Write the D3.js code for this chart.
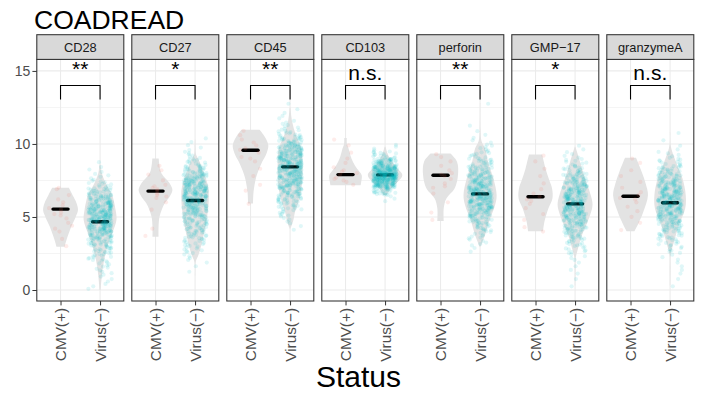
<!DOCTYPE html>
<html>
<head>
<meta charset="utf-8">
<script src="https://cdn.jsdelivr.net/npm/d3@7"></script>
<style>body{margin:0;background:#fff}</style>
</head>
<body>
<script>
// panels, groups and labels
var markers = ["CD28", "CD27", "CD45", "CD103", "perforin", "GMP\u221217", "granzymeA"];
var groups = ["CMV(+)", "Virus(\u2212)"];
var sigLabels = ["**", "*", "**", "n.s.", "**", "*", "n.s."];
var yTicks = [0, 5, 10, 15];
var yMinor = [2.5, 7.5, 12.5];

// medians (black bars)
var medianCMV = [5.54, 6.77, 9.57, 7.9, 7.86, 6.38, 6.42];
var medianVirus = [4.67, 6.13, 8.43, 7.88, 6.58, 5.9, 5.97];

// violin outlines: [value, relative width]
var violinCMV = [
  [[2.96,0.23],[3.4,0.33],[4.0,0.5],[4.33,0.6],[5.0,0.85],[5.47,0.98],[6.0,0.88],[6.4,0.72],[7.0,0.47]],
  [[3.65,0.17],[4.33,0.17],[5.0,0.22],[5.5,0.35],[5.93,0.51],[6.4,0.8],[6.84,0.95],[7.3,0.8],[8.0,0.33],[8.7,0.2],[9.0,0.18]],
  [[5.93,0.14],[6.72,0.17],[7.63,0.3],[8.2,0.45],[8.77,0.65],[9.3,0.88],[9.9,1.0],[10.5,0.8],[10.98,0.51]],
  [[7.18,0.85],[7.4,0.88],[7.86,0.91],[8.3,0.65],[8.77,0.42],[9.2,0.28],[9.68,0.17],[10.0,0.08],[10.4,0.07]],
  [[4.72,0.18],[5.6,0.18],[6.27,0.33],[6.95,0.79],[7.86,0.98],[8.77,0.93],[9.34,0.56]],
  [[4.03,0.42],[4.67,0.5],[5.58,0.72],[6.27,0.95],[6.95,0.93],[7.6,0.75],[8.32,0.56],[9.27,0.37]],
  [[4.03,0.22],[4.56,0.44],[5.36,0.72],[6.49,0.98],[7.3,0.85],[8.08,0.63],[9.05,0.31]]
];
var violinVirus = [
  [[0,0.03],[1,0.1],[2,0.22],[3,0.42],[4,0.72],[4.8,0.92],[5.5,0.87],[6.6,0.65],[7.0,0.45],[7.5,0.25],[8.0,0.1],[8.6,0.03]],
  [[1.0,0.01],[1.9,0.03],[2.5,0.22],[3.65,0.46],[4.8,0.65],[6.15,0.77],[7.06,0.74],[8.2,0.44],[8.8,0.25],[9.3,0.05],[9.8,0.02],[10.3,0.01]],
  [[4.2,0.02],[4.7,0.17],[5.36,0.28],[6.27,0.53],[7.4,0.68],[8.54,0.7],[9.68,0.64],[10.6,0.33],[11.5,0.12],[12.5,0.02]],
  [[6.5,0.1],[6.95,0.33],[7.4,0.7],[7.86,0.97],[8.43,0.6],[9.0,0.28],[9.4,0.12],[9.8,0.03]],
  [[2.96,0.03],[3.76,0.28],[4.67,0.5],[5.8,0.84],[6.49,0.93],[7.63,0.75],[8.77,0.45],[9.68,0.28],[10.2,0.08],[11,0.02],[12.8,0.01]],
  [[0.3,0.01],[1.5,0.02],[2.17,0.03],[2.85,0.17],[3.76,0.39],[4.67,0.7],[5.81,0.98],[6.49,0.88],[7.63,0.56],[8.77,0.28],[9.8,0.02]],
  [[0.3,0.01],[1.5,0.02],[2.4,0.03],[3.3,0.22],[4.45,0.5],[5.58,0.85],[6.49,0.88],[7.63,0.7],[8.77,0.33],[9.9,0.03],[10.8,0.01]]
];

// CMV(+) sample values (few points)
var pointsCMV = [
  [3.0,3.5,4.0,4.2,4.6,4.9,5.1,5.3,5.5,5.6,5.8,6.0,6.2,6.5,6.9,7.0,5.2,4.4],
  [3.7,4.2,5.5,6.0,6.3,6.5,6.6,6.8,6.9,7.0,7.2,7.5,7.9,8.2,8.5,6.4,7.1],
  [5.9,6.8,7.2,7.8,8.3,8.8,9.1,9.4,9.6,9.7,9.9,10.1,10.3,10.6,10.9,9.0],
  [7.2,7.4,7.6,7.7,7.9,8.0,8.2,8.4,8.7,9.0,9.4,9.9,10.3,7.5,8.1],
  [4.8,5.3,6.0,6.6,7.0,7.3,7.6,7.8,8.0,8.2,8.5,8.8,9.1,9.3,7.1,7.9],
  [4.0,4.3,4.8,5.2,5.6,5.9,6.2,6.4,6.6,6.9,7.3,7.8,8.3,8.8,9.2,6.1],
  [4.1,4.6,5.0,5.4,5.7,6.0,6.3,6.5,6.7,7.0,7.4,7.8,8.2,8.7,9.0,6.2]
];

// Virus(-) samples as counts per 0.5 bin, starting at 0
var binStep = 0.5;
var countsVirus = [
  [3,3,5,7,12,16,25,35,50,55,55,48,35,22,10,5,3,1,0,0,0,0,0,0,0,0],
  [0,0,1,2,4,8,12,16,20,25,32,40,45,48,45,35,22,12,6,3,2,0,0,0,0,0],
  [0,0,0,0,0,0,0,0,2,4,8,14,22,30,40,45,48,48,45,38,22,12,6,3,2,1],
  [0,0,0,0,0,0,0,0,0,0,0,0,3,25,80,130,90,45,15,4,0,0,0,0,0,0],
  [0,0,0,0,0,2,5,8,14,22,32,45,50,50,42,35,25,17,10,6,3,2,1,0,0,1],
  [1,1,2,2,4,8,12,18,25,32,42,45,45,40,32,24,14,8,4,2,0,0,0,0,0,0],
  [1,1,2,2,3,6,10,15,22,30,40,45,46,42,35,26,17,10,5,2,1,1,0,0,0,0]
];

var font = "'Liberation Sans', Arial, Helvetica, sans-serif";
var svg = d3.select("body").append("svg").attr("width", 702).attr("height", 400)
  .style("font-family", font);
svg.append("rect").attr("width", 702).attr("height", 400).attr("fill", "#fff");

var y = d3.scaleLinear().domain([-0.753, 15.788]).range([301, 59.4]);
var fx = d3.scaleBand().domain(markers).range([36.8, 693.8]).paddingInner(8 / 95);
var x = d3.scalePoint().domain(groups).range([0, fx.bandwidth()]).padding(0.6);
var step = x.step();
var wScale = d3.scaleLinear().domain([0, 1]).range([0, 0.45 * step]);

// title
svg.append("text").attr("x", 34).attr("y", 29).style("font-size", "26.5px").attr("fill", "#000").text("COADREAD");

// axis title
svg.append("text").attr("x", 358.5).attr("y", 387).attr("text-anchor", "middle")
  .style("font-size", "30px").attr("fill", "#000").text("Status");

// horizontal jitter like geom_jitter(width = 0.3), deterministic
function jitter(j, seed) {
  var s = Math.sin((j + 1) * 12.9898 + seed * 78.233) * 43758.5453;
  var f = s - Math.floor(s);
  return (f * 2 - 1) * 0.3 * step;
}

markers.forEach(function (m, i) {
  var g = svg.append("g").attr("transform", "translate(" + fx(m) + ",0)");
  var pw = fx.bandwidth();

  // grid
  g.selectAll(".minor").data(yMinor).enter().append("line")
    .attr("x1", 0).attr("x2", pw).attr("y1", y).attr("y2", y)
    .attr("stroke", "#EBEBEB").attr("stroke-width", 0.55);
  g.selectAll(".major").data(yTicks).enter().append("line")
    .attr("x1", 0).attr("x2", pw).attr("y1", y).attr("y2", y)
    .attr("stroke", "#EBEBEB").attr("stroke-width", 1.07);
  g.selectAll(".vgrid").data(groups).enter().append("line")
    .attr("x1", x).attr("x2", x).attr("y1", y.range()[0]).attr("y2", y.range()[1])
    .attr("stroke", "#EBEBEB").attr("stroke-width", 1.07);

  // violins
  [violinCMV[i], violinVirus[i]].forEach(function (prof, k) {
    var cx = x(groups[k]);
    var area = d3.area()
      .y(function (d) { return y(d[0]); })
      .x0(function (d) { return cx - wScale(d[1]); })
      .x1(function (d) { return cx + wScale(d[1]); })
      .curve(d3.curveCatmullRom);
    g.append("path").datum(prof).attr("d", area).attr("fill", "#E3E3E3");
  });

  // medians
  [medianCMV[i], medianVirus[i]].forEach(function (md, k) {
    var cx = x(groups[k]);
    g.append("line").attr("x1", cx - 0.19 * step).attr("x2", cx + 0.19 * step)
      .attr("y1", y(md)).attr("y2", y(md))
      .attr("stroke", "#000").attr("stroke-width", 3.4).attr("stroke-linecap", "round");
  });

  // points
  var cmvX = x(groups[0]);
  g.selectAll(".pc").data(pointsCMV[i]).enter().append("circle")
    .attr("cx", function (d, j) { return cmvX + jitter(j, i + 1); })
    .attr("cy", y).attr("r", 2.1)
    .attr("fill", "#F8766D").attr("fill-opacity", 0.14);

  var virusVals = [];
  countsVirus[i].forEach(function (n, b) {
    for (var k = 0; k < n; k++) virusVals.push(b * binStep + binStep * (k + 0.5) / n);
  });
  var virX = x(groups[1]);
  g.selectAll(".pv").data(virusVals).enter().append("circle")
    .attr("cx", function (d, j) { return virX + jitter(j, i + 11); })
    .attr("cy", y).attr("r", 2.1)
    .attr("fill", "#00BFC4").attr("fill-opacity", 0.12);

  // significance bracket
  var bx = groups.map(x);
  g.append("path")
    .attr("d", d3.line()([[bx[0], y(13.05)], [bx[0], y(14.0)], [bx[1], y(14.0)], [bx[1], y(13.05)]]))
    .attr("fill", "none").attr("stroke", "#000").attr("stroke-width", 1.1);
  g.append("text").attr("x", (bx[0] + bx[1]) / 2).attr("y", y(14.36))
    .attr("dy", sigLabels[i].indexOf("*") >= 0 ? "-0.2em" : "0")
    .attr("text-anchor", "middle").style("font-size", "21px").attr("fill", "#000")
    .text(sigLabels[i]);

  // x axis
  var ax = g.append("g").attr("transform", "translate(0," + y.range()[0] + ")")
    .call(d3.axisBottom(x).tickSize(4.4).tickSizeOuter(0));
  ax.select(".domain").remove();
  ax.selectAll(".tick line").attr("stroke", "#333");
  ax.selectAll(".tick text")
    .attr("transform", "rotate(-90)").attr("text-anchor", "end")
    .attr("x", -7).attr("y", 0).attr("dy", "0.35em")
    .style("font-size", "15.3px").style("font-family", font).attr("fill", "#4D4D4D");

  // panel border
  g.append("rect").attr("x", 0).attr("y", y.range()[1]).attr("width", pw)
    .attr("height", y.range()[0] - y.range()[1])
    .attr("fill", "none").attr("stroke", "#333").attr("stroke-width", 1.07);

  // strip
  g.append("rect").attr("x", 0).attr("y", 34.7).attr("width", pw).attr("height", y.range()[1] - 34.7)
    .attr("fill", "#D9D9D9").attr("stroke", "#333").attr("stroke-width", 1.07);
  g.append("text").attr("x", pw / 2).attr("y", 52.3).attr("text-anchor", "middle")
    .style("font-size", "12.8px").attr("fill", "#1A1A1A").text(m);

  // y axis on first panel
  if (i === 0) {
    var ay = g.append("g").call(d3.axisLeft(y).tickValues(yTicks).tickSize(4.4).tickPadding(2.2));
    ay.select(".domain").remove();
    ay.selectAll(".tick line").attr("stroke", "#333");
    ay.selectAll(".tick text").style("font-size", "14px").style("font-family", font).attr("fill", "#4D4D4D");
  }
});
</script>
</body>
</html>
